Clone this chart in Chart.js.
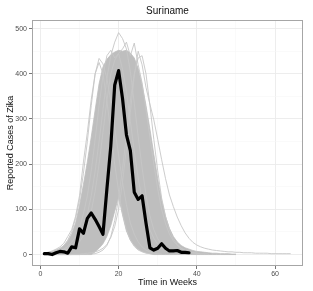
<!DOCTYPE html>
<html>
<head>
<meta charset="utf-8">
<script src="https://cdn.jsdelivr.net/npm/chart.js@4.4.0/dist/chart.umd.min.js"></script>
<style>
  html, body { margin: 0; padding: 0; background: #fff; }
</style>
</head>
<body>
<canvas id="chart" width="313" height="291"></canvas>
<script>
// reported weekly cases (black line), weeks 1..38
const observed = [2, 2, 0, 4, 7, 6, 3, 17, 15, 57, 47, 80, 92, 78, 62, 45, 145, 240, 375, 407,
  345, 265, 230, 138, 122, 130, 70, 15, 10, 14, 24, 14, 8, 8, 9, 5, 5, 4];

// dense part of the simulated curves: upper and lower edge, weeks 1..50
const bandUpper = [4, 5, 7, 10, 14, 20, 30, 45, 70, 108, 155, 205, 260, 320, 378, 415, 432, 442, 448, 452,
  450, 452, 446, 435, 412, 376, 330, 278, 222, 168, 120, 84, 58, 40, 28, 20, 15, 12, 9, 7,
  6, 5, 4, 3, 3, 2, 2, 2, 1, 1];
const bandLower = [0, 0, 0, 0, 0, 0, 0, 0, 0, 0, 0, 0, 0, 6, 14, 24, 40, 64, 96, 128,
  88, 52, 32, 20, 12, 7, 4, 2, 0, 0, 0, 0, 0, 0, 0, 0, 0, 0, 0, 0,
  0, 0, 0, 0, 0, 0, 0, 0, 0, 0];

// a few single simulated curves that show at the edges of the band (weeks from 1)
const simEarly = [3, 5, 8, 12, 17, 25, 40, 55, 85, 130, 205, 270, 343, 400, 434, 422, 390, 340, 280, 220,
  160, 110, 70, 45, 28, 17, 10, 6, 3, 2, 1];
const simTall = [1, 2, 3, 4, 6, 9, 13, 19, 28, 42, 62, 90, 130, 185, 250, 320, 390, 440, 470, 491,
  478, 455, 405, 335, 262, 192, 132, 86, 55, 35, 22, 14, 9, 6, 4, 2];
const simLate = [0, 0, 0, 0, 0, 0, 0, 0, 1, 1, 2, 3, 4, 6, 9, 14, 22, 38, 62, 100,
  160, 235, 315, 395, 450, 420, 370, 333, 298, 255, 210, 168, 132, 106, 83, 64, 48, 36, 27, 21,
  17, 14, 12, 10, 9, 8, 7, 6, 6, 5, 5, 4, 4, 4, 3, 3, 3, 3, 2, 2,
  2, 2, 2, 2];
const simRiser = [0, 0, 0, 0, 0, 0, 0, 0, 0, 0, 1, 1, 1, 2, 5, 10, 20, 40, 75, 125,
  190, 265, 340, 400, 435, 440, 400, 330, 255, 185, 125, 85, 55, 35, 22, 14, 9, 6, 4, 3,
  2, 2, 1];
const simFaller = [2, 3, 5, 8, 12, 20, 32, 50, 80, 120, 180, 250, 330, 400, 425, 400, 340, 270, 200, 140,
  90, 55, 32, 18, 10, 6, 3, 2, 1, 1, 0];
const simJagged = [0, 1, 1, 2, 3, 5, 8, 12, 18, 28, 42, 62, 95, 140, 200, 270, 340, 400, 430, 445,
  455, 470, 440, 468, 420, 380, 320, 260, 200, 145, 100, 68, 45, 30, 20, 13, 9, 6, 4, 3, 2];
const simMid = [1, 2, 3, 5, 8, 12, 18, 27, 40, 60, 90, 130, 185, 255, 330, 395, 440, 452, 435, 445,
  410, 360, 295, 230, 170, 120, 82, 55, 36, 23, 15, 10, 6, 4, 3, 2];

const xMajor = [0, 20, 40, 60];
const xMinor = [10, 30, 50];
const yMajor = [0, 100, 200, 300, 400, 500];
const yMinor = [50, 150, 250, 350, 450];

const weekPoints = arr => arr.map((v, i) => ({ x: i + 1, y: v }));

const FONT = "'Liberation Sans', Arial, sans-serif";
const simColor = "#c6c6c6";

const simSets = [simEarly, simTall, simLate, simRiser, simFaller, simJagged, simMid].map(arr => ({
    data: weekPoints(arr),
    borderColor: simColor,
    borderWidth: 0.9,
    pointRadius: 0,
    fill: false,
    order: 2,
}));

const panelBorder = {
    id: "panelBorder",
    afterDatasetsDraw(chart) {
        const a = chart.chartArea;
        const c = chart.ctx;
        c.save();
        c.strokeStyle = "#a6a6a6";
        c.lineWidth = 1;
        c.strokeRect(Math.round(a.left) + 0.5, Math.round(a.top) + 0.5,
            Math.round(a.right - a.left) - 1, Math.round(a.bottom - a.top) - 1);
        c.restore();
    },
};

function axisOpts(major, minor, min, max, title) {
    return {
        type: "linear",
        min: min,
        max: max,
        afterBuildTicks: s => {
            s.ticks = major.concat(minor).sort((p, q) => p - q).map(v => ({ value: v }));
        },
        ticks: {
            autoSkip: false,
            maxRotation: 0,
            padding: 1,
            color: "#4d4d4d",
            font: { family: FONT, size: 7 },
            callback: v => (major.includes(v) ? String(v) : ""),
        },
        grid: {
            color: ctx => (major.includes(ctx.tick.value) ? "#ebebeb" : "#f6f6f6"),
            lineWidth: ctx => (major.includes(ctx.tick.value) ? 0.9 : 0.6),
            tickColor: ctx => (major.includes(ctx.tick.value) ? "#666" : "rgba(0,0,0,0)"),
            tickLength: 3,
        },
        border: { display: false },
        title: {
            display: true,
            text: title,
            color: "#111",
            font: { family: FONT, size: 9 },
            padding: { top: 0, bottom: 3 },
        },
    };
}

const xAxis = axisOpts(xMajor, xMinor, -2.15, 67.15, "Time in Weeks");
xAxis.afterFit = s => { s.height = 25; };
const yAxis = axisOpts(yMajor, yMinor, -25.3, 519, "Reported Cases of Zika");
yAxis.afterFit = s => { s.width = 32; };
yAxis.ticks.padding = 2;
yAxis.title.padding = { top: 5, bottom: 0 };

const ctx = document.getElementById("chart").getContext("2d");
const chart = new Chart(ctx, {
    type: "line",
    data: {
        datasets: [
            {
                label: "observed",
                data: weekPoints(observed),
                borderColor: "#000",
                borderWidth: 3.2,
                borderJoinStyle: "round",
                borderCapStyle: "round",
                pointRadius: 0,
                fill: false,
                order: 0,
            },
            ...simSets,
            {
                label: "band top",
                data: weekPoints(bandUpper),
                borderColor: "#bebebe",
                borderWidth: 0.8,
                backgroundColor: "#bebebe",
                pointRadius: 0,
                fill: "+1",
                order: 5,
            },
            {
                label: "band bottom",
                data: weekPoints(bandLower),
                borderColor: "#bebebe",
                borderWidth: 0.8,
                pointRadius: 0,
                fill: false,
                order: 6,
            },
        ],
    },
    options: {
        responsive: false,
        animation: false,
        layout: { padding: { top: 0, right: 10, left: 0, bottom: 0 } },
        plugins: {
            legend: { display: false },
            tooltip: { enabled: false },
            title: {
                display: true,
                text: "Suriname",
                fullSize: false,
                color: "#111",
                font: { family: FONT, size: 10, weight: "normal" },
                padding: { top: 5, bottom: 3 },
            },
        },
        scales: { x: xAxis, y: yAxis },
    },
    plugins: [panelBorder],
});
</script>
</body>
</html>
